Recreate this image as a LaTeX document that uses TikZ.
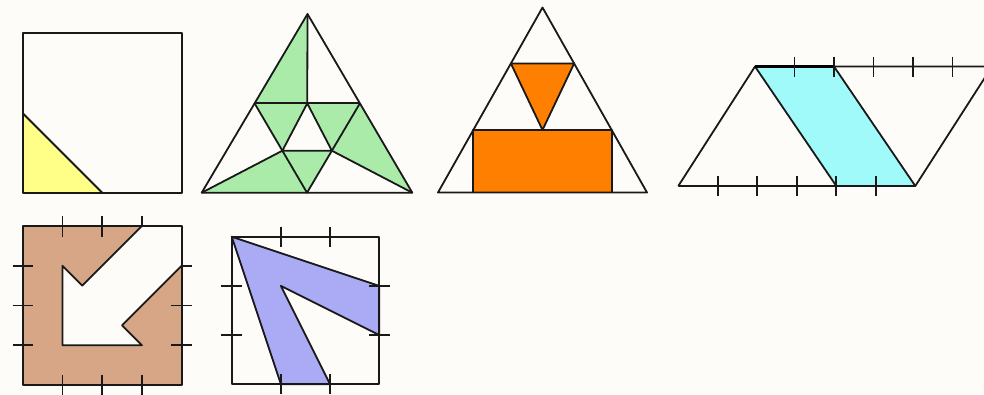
\documentclass[tikz,border=0pt]{standalone}
\usetikzlibrary{calc}
\definecolor{bgc}{RGB}{253,252,249}
\definecolor{yel}{RGB}{255,255,136}
\definecolor{grn}{RGB}{170,235,170}
\definecolor{org}{RGB}{255,128,0}
\definecolor{cyn}{RGB}{160,250,250}
\definecolor{brn}{RGB}{214,166,134}
\definecolor{blu}{RGB}{170,170,245}
\begin{document}
\begin{tikzpicture}[x=1pt,y=-1pt,line join=round,
  ln/.style={draw=black!90,line width=1.8pt},
  tk/.style={draw=black!90,line width=1.8pt}]
\useasboundingbox (0,0) rectangle (984,394);
\fill[bgc] (0,0) rectangle (984,394);
\clip (0,0) rectangle (984,394);

% ---- Figure 1: square with yellow corner triangle
\fill[yel] (23,193) -- (23,113.5) -- (102.5,193) -- cycle;
\draw[ln] (23,113.5) -- (102.5,193);
\draw[ln] (23,33) rectangle (182,193);

% ---- Figure 2: triangle subdivided, green
\coordinate (A2) at (307.5,14);
\coordinate (BL2) at (201.7,192.7);
\coordinate (BR2) at (412.3,192.7);
\coordinate (L2) at ($(A2)!0.5!(BL2)$);
\coordinate (R2) at ($(A2)!0.5!(BR2)$);
\coordinate (B2) at ($(BL2)!0.5!(BR2)$);
\coordinate (M2) at ($(L2)!0.5!(R2)$);
\coordinate (P2) at ($(L2)!0.53!(B2)$);
\coordinate (Q2) at ($(R2)!0.53!(B2)$);
\fill[grn] (A2) -- (L2) -- (M2) -- cycle;
\fill[grn] (L2) -- (M2) -- (P2) -- cycle;
\fill[grn] (M2) -- (R2) -- (Q2) -- cycle;
\fill[grn] (R2) -- (BR2) -- (Q2) -- cycle;
\fill[grn] (P2) -- (Q2) -- (B2) -- cycle;
\fill[grn] (BL2) -- (P2) -- (B2) -- cycle;
\draw[ln] (A2) -- (BL2) -- (BR2) -- cycle;
\draw[ln] (L2) -- (R2);
\draw[ln] (A2) -- (M2);
\draw[ln] (L2) -- (B2) -- (R2);
\draw[ln] (P2) -- (M2) -- (Q2) -- (P2);
\draw[ln] (BL2) -- (P2);
\draw[ln] (BR2) -- (Q2);

% ---- Figure 3: triangle with orange inverted triangle and rectangle
\coordinate (A3) at (542.5,7.5);
\coordinate (BL3) at (438,192.5);
\coordinate (BR3) at (647,192.5);
\fill[org] (510.9,63.5) -- (574.1,63.5) -- (542.5,130) -- cycle;
\draw[ln] (510.9,63.5) -- (574.1,63.5) -- (542.5,130) -- cycle;
\fill[org] (473.3,130) rectangle (611.7,192.5);
\draw[ln] (473.3,192.5) -- (473.3,130) -- (611.7,130) -- (611.7,192.5);
\draw[ln] (A3) -- (BL3) -- (BR3) -- cycle;

% ---- Figure 4: parallelogram with cyan strip
\coordinate (BL4) at (678.3,186);
\coordinate (TL4) at (755,66.5);
\coordinate (BR4) at (915.3,186);
\coordinate (TR4) at (992,66.5);
\coordinate (S1) at (834,66.5);
\coordinate (S2) at (836.3,186);
\fill[cyn] (TL4) -- (S1) -- (BR4) -- (S2) -- cycle;
\draw[ln] (BL4) -- (TL4) -- (TR4);
\draw[ln] (BL4) -- (BR4) -- (TR4);
\draw[ln] (TL4) -- (S2);
\draw[ln] (S1) -- (BR4);
\draw[black,line width=3.5pt] (TL4) -- (S1);
\foreach \t in {794.5,834,873.5,913,952.5} \draw[tk] (\t,56.5) -- (\t,76.5);
\foreach \t in {717.8,757.3,796.8,836.3,875.8} \draw[tk] (\t,176) -- (\t,196);

% ---- Figure 5: brown square with arrow cut-out
\begin{scope}[shift={(22.7,226)},x=39.75pt,y=-39.75pt]
\fill[brn] (0,0) rectangle (4,4);
\fill[bgc] (3,0) -- (1.5,1.5) -- (1,1) -- (1,3) -- (3,3) -- (2.5,2.5) -- (4,1) -- (4,0) -- cycle;
\draw[ln] (3,0) -- (1.5,1.5) -- (1,1) -- (1,3) -- (3,3) -- (2.5,2.5) -- (4,1);
\draw[ln] (0,0) rectangle (4,4);
\foreach \i in {1,2} \draw[tk] (\i,-0.25) -- (\i,0.28);
\draw[tk] (3,-0.25) -- (3,0);
\foreach \i in {1,2,3} \draw[tk] (-0.25,\i) -- (0.27,\i);
\draw[tk] (4,1) -- (4.25,1);
\foreach \i in {2,3} \draw[tk] (3.73,\i) -- (4.25,\i);
\foreach \i in {1,2,3} \draw[tk] (\i,3.75) -- (\i,4.25);
\end{scope}

% ---- Figure 6: square with blue wedge
\begin{scope}[shift={(231.7,236.7)},x=49.2pt,y=-49.2pt]
\fill[blu] (0,0) -- (3,1) -- (3,2) -- (1,1) -- (2,3) -- (1,3) -- cycle;
\draw[ln] (0,0) -- (3,1) -- (3,2) -- (1,1) -- (2,3) -- (1,3) -- cycle;
\draw[ln] (0,0) rectangle (3,3);
\foreach \i in {1,2} {
  \draw[tk] (\i,-0.2) -- (\i,0.2);
  \draw[tk] (\i,2.8) -- (\i,3.2);
  \draw[tk] (-0.22,\i) -- (0.2,\i);
  \draw[tk] (2.8,\i) -- (3.22,\i);
}
\end{scope}
\end{tikzpicture}
\end{document}
